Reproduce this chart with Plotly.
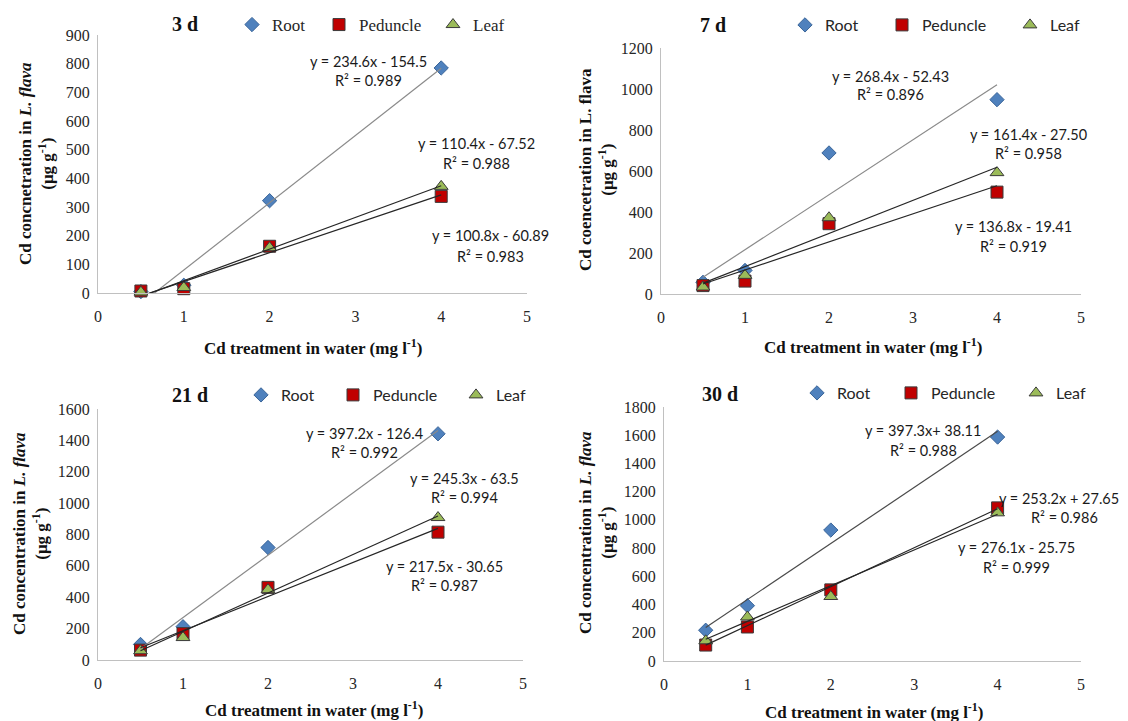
import plotly.graph_objects as go

# ---------------- data ----------------
treatment = [0.5, 1, 2, 4]
series_names = ["Root", "Peduncle", "Leaf"]

root_3d = [5, 27, 322, 785]
ped_3d = [7, 15, 163, 337]
leaf_3d = [3, 19, 158, 372]

root_7d = [57, 115, 688, 948]
ped_7d = [41, 63, 343, 497]
leaf_7d = [34, 91, 372, 592]

root_21d = [99, 212, 717, 1442]
ped_21d = [63, 168, 463, 815]
leaf_21d = [59, 143, 448, 908]

root_30d = [218, 392, 928, 1587]
ped_30d = [113, 241, 504, 1085]
leaf_30d = [143, 312, 457, 1050]

# trendline (slope, intercept) as printed on the chart
fit_3d = {"Root": (234.6, -154.5), "Peduncle": (100.8, -60.89), "Leaf": (110.4, -67.52)}
fit_7d = {"Root": (268.4, -52.43), "Peduncle": (136.8, -19.41), "Leaf": (161.4, -27.50)}
fit_21d = {"Root": (397.2, -126.4), "Peduncle": (217.5, -30.65), "Leaf": (245.3, -63.5)}
fit_30d = {"Root": (397.3, 38.11), "Peduncle": (276.1, -25.75), "Leaf": (253.2, 27.65)}

# equation labels: (text, x, y) in data units
eq_3d = [("y = 234.6x - 154.5", 3.15, 806), ("R² = 0.989", 3.15, 743),
         ("y = 110.4x - 67.52", 4.41, 520), ("R² = 0.988", 4.41, 453),
         ("y = 100.8x - 60.89", 4.57, 199), ("R² = 0.983", 4.57, 129)]
eq_7d = [("y = 268.4x - 52.43", 2.73, 1063), ("R² = 0.896", 2.73, 971),
         ("y = 161.4x - 27.50", 4.38, 776), ("R² = 0.958", 4.38, 683),
         ("y = 136.8x - 19.41", 4.20, 327), ("R² = 0.919", 4.20, 234)]
eq_21d = [("y = 397.2x - 126.4", 3.14, 1441), ("R² = 0.992", 3.14, 1320),
          ("y = 245.3x - 63.5", 4.31, 1154), ("R² = 0.994", 4.31, 1033),
          ("y = 217.5x - 30.65", 4.08, 593), ("R² = 0.987", 4.08, 472)]
eq_30d = [("y = 397.3x+ 38.11", 3.11, 1630), ("R² = 0.988", 3.11, 1495),
          ("y = 253.2x + 27.65", 4.74, 1155), ("R² = 0.986", 4.80, 1020),
          ("y = 276.1x - 25.75", 4.23, 801), ("R² = 0.999", 4.23, 666)]

panel_titles = ["3 d", "7 d", "21 d", "30 d"]
y_max = [900, 1200, 1600, 1800]
y_dtick = [100, 200, 200, 200]
x_title = "<b>Cd treatment in water (mg l<sup>-1</sup>)</b>"
y_titles = [
    "<b>Cd concnetration in <i>L. flava</i></b><br><b>(μg g<sup>-1</sup>)</b>",
    "<b>Cd coencetration in L. flava</b><br><b>(μg g<sup>-1</sup>)</b>",
    "<b>Cd concentration in <i>L. flava</i></b><br><b>(μg g<sup>-1</sup>)</b>",
    "<b>Cd concentration in <i>L. flava</i></b><br><b>(μg g<sup>-1</sup>)</b>",
]

# ---------------- layout geometry (pixels, as seen in the page) ----------------
W, H = 1128, 721
OFF = 8  # the page body margin shifts the figure by this much


def px(x):
    return (x - OFF) / W


def py(y):
    return 1 - (y - OFF) / H


# plot-area boxes: (left, right, top, bottom)
boxes = [(98, 527, 35, 293), (661, 1081, 48, 294), (98, 523, 409, 660), (664, 1081, 407, 661)]
title_pos = [(185, 24), (713, 25), (190, 395), (720, 394)]
legend_y = [25, 25, 395, 393]
# legend marker x positions for Root, Peduncle, Leaf
legend_x = [(258, 345, 459), (811, 908, 1036), (267, 359, 482), (823, 917, 1042)]
xtitle_pos = [(313, 347), (873, 346), (314, 709), (874, 711)]
ytitle_pos = [(36, 164), (596, 170), (30, 534), (596, 533)]

SERIF = "Liberation Serif"
SANS = "Lato"

styles = {
    "Root": dict(symbol="diamond", size=11, color="#4F81BD", line=dict(color="#3A6599", width=1)),
    "Peduncle": dict(symbol="square", size=12, color="#C00000", line=dict(color="#3b3b3b", width=1)),
    "Leaf": dict(symbol="triangle-up", size=12, color="#9BBB59", line=dict(color="#3b3b3b", width=1)),
}

data_sets = [
    ({"Root": root_3d, "Peduncle": ped_3d, "Leaf": leaf_3d}, fit_3d, eq_3d),
    ({"Root": root_7d, "Peduncle": ped_7d, "Leaf": leaf_7d}, fit_7d, eq_7d),
    ({"Root": root_21d, "Peduncle": ped_21d, "Leaf": leaf_21d}, fit_21d, eq_21d),
    ({"Root": root_30d, "Peduncle": ped_30d, "Leaf": leaf_30d}, fit_30d, eq_30d),
]

fig = go.Figure()
annotations = []
layout = {}
legend_count = 0

for i, (vals, fit, eqs) in enumerate(data_sets):
    k = "" if i == 0 else str(i + 1)
    xa, ya = "x" + k, "y" + k
    l, r, t, b = boxes[i]
    layout["xaxis" + k] = dict(
        domain=[px(l), px(r)], anchor=ya, range=[0, 5], dtick=1, tick0=0,
        showgrid=False, zeroline=False, showline=True, linecolor="#c0c0c0", linewidth=1,
        ticks="", ticklabelstandoff=9, automargin=False,
        tickfont=dict(family=SERIF, size=16, color="#262626"),
    )
    layout["yaxis" + k] = dict(
        domain=[py(b), py(t)], anchor=xa, range=[0, y_max[i]], dtick=y_dtick[i], tick0=0,
        showgrid=False, zeroline=False, showline=True, linecolor="#c0c0c0", linewidth=1,
        ticks="", ticklabelstandoff=4, automargin=False,
        tickfont=dict(family=SERIF, size=16, color="#262626"),
    )
    lf, lsize = (SERIF, 17) if i == 0 else (SANS, 16)

    for j, name in enumerate(series_names):
        legend_count += 1
        lg = "legend" if legend_count == 1 else "legend" + str(legend_count)
        layout[lg] = dict(
            orientation="h", x=px(legend_x[i][j] - 6 - 20), y=py(legend_y[i]),
            xanchor="left", yanchor="middle", itemwidth=30,
            font=dict(family=lf, size=lsize, color="#262626"), bgcolor="rgba(0,0,0,0)",
        )
        fig.add_trace(go.Scatter(
            x=treatment, y=vals[name], mode="markers", name=name, marker=styles[name],
            xaxis=xa, yaxis=ya, legend=lg, showlegend=True, cliponaxis=False,
        ))
    x0, x1 = min(treatment), max(treatment)
    for name in series_names:
        m, c = fit[name]
        col = "#8a8a8a" if (name == "Root" and i < 3) else "#262626"
        if name == "Root" and i == 3:
            col = "#4a4a4a"
        fig.add_trace(go.Scatter(
            x=[x0, x1], y=[m * x0 + c, m * x1 + c], mode="lines",
            line=dict(color=col, width=1.2), xaxis=xa, yaxis=ya, showlegend=False,
            hoverinfo="skip",
        ))
    for txt, ex, ey in eqs:
        annotations.append(dict(
            text=txt, x=ex, y=ey, xref=xa, yref=ya, showarrow=False,
            xanchor="center", yanchor="middle",
            font=dict(family=SANS, size=14.5, color="#1a1a1a"),
        ))
    tx, ty = title_pos[i]
    annotations.append(dict(
        text="<b>" + panel_titles[i] + "</b>", x=px(tx), y=py(ty), xref="paper", yref="paper",
        showarrow=False, xanchor="center", yanchor="middle",
        font=dict(family=SERIF, size=20, color="#111111"),
    ))
    xx, xy = xtitle_pos[i]
    annotations.append(dict(
        text=x_title, x=px(xx), y=py(xy), xref="paper", yref="paper",
        showarrow=False, xanchor="center", yanchor="middle",
        font=dict(family=SERIF, size=17, color="#111111"),
    ))
    yx, yy = ytitle_pos[i]
    annotations.append(dict(
        text=y_titles[i], x=px(yx), y=py(yy), xref="paper", yref="paper",
        showarrow=False, xanchor="center", yanchor="middle", textangle=-90,
        font=dict(family=SERIF, size=17, color="#111111"),
    ))

fig.update_layout(
    width=W, height=H, margin=dict(l=0, r=0, t=0, b=0, pad=0, autoexpand=False),
    paper_bgcolor="white", plot_bgcolor="white",
    annotations=annotations, **layout,
)

fig.write_html("out.html")
